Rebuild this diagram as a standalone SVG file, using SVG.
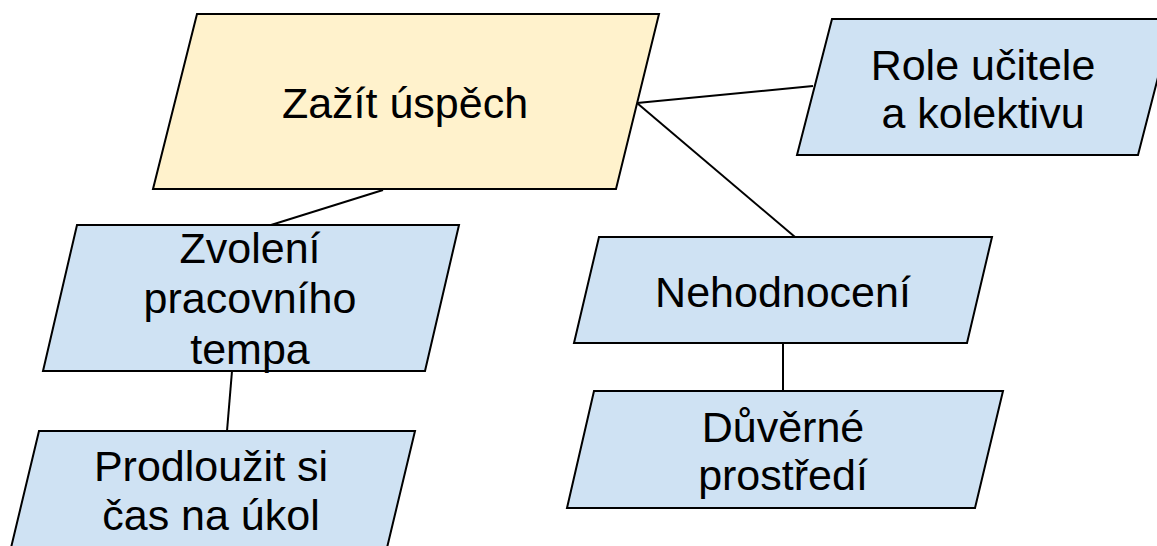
<svg xmlns="http://www.w3.org/2000/svg" width="1157" height="546" viewBox="0 0 1157 546">
<style>
.n{stroke:#000;stroke-width:2;stroke-linejoin:miter}
.y{fill:#fff2cc}
.b{fill:#cfe2f3}
.t{font-family:"Liberation Sans",Arial,sans-serif;font-size:43px;fill:#000;text-anchor:middle}
.c line{stroke:#000;stroke-width:2}
</style>
<rect width="1157" height="546" fill="#fff"/>
<g class="c" id="connectors">
<line x1="637" y1="103" x2="813" y2="86"/>
<line x1="637" y1="103" x2="795" y2="237"/>
<line x1="383" y1="190" x2="271" y2="225"/>
<line x1="232" y1="371" x2="227" y2="431"/>
<line x1="783" y1="343" x2="783" y2="391"/>
</g>
<g id="main">
<polygon class="n y" points="197,14 659,14 616,189 153,189"/>
<text class="t" x="405" y="118">Zažít úspěch</text>
</g>
<g id="role">
<polygon class="n b" points="832,19 1173,19 1138,155 797,155"/>
<text class="t" x="983" y="80">Role učitele</text>
<text class="t" x="983" y="128">a kolektivu</text>
</g>
<g id="zvoleni">
<polygon class="n b" points="77,225 459,225 425,371 43,371"/>
<text class="t" x="250" y="263">Zvolení</text>
<text class="t" x="250" y="313">pracovního</text>
<text class="t" x="250" y="364">tempa</text>
</g>
<g id="prodlouzit">
<polygon class="n b" points="39,431 415,431 380,577 4,577"/>
<text class="t" x="211" y="481">Prodloužit si</text>
<text class="t" x="211" y="530">čas na úkol</text>
</g>
<g id="nehodnoceni">
<polygon class="n b" points="599,237 992,237 967,343 574,343"/>
<text class="t" x="783" y="307">Nehodnocení</text>
</g>
<g id="duverne">
<polygon class="n b" points="594,391 1003,391 975,508 567,508"/>
<text class="t" x="783" y="442">Důvěrné</text>
<text class="t" x="783" y="490">prostředí</text>
</g>
</svg>
